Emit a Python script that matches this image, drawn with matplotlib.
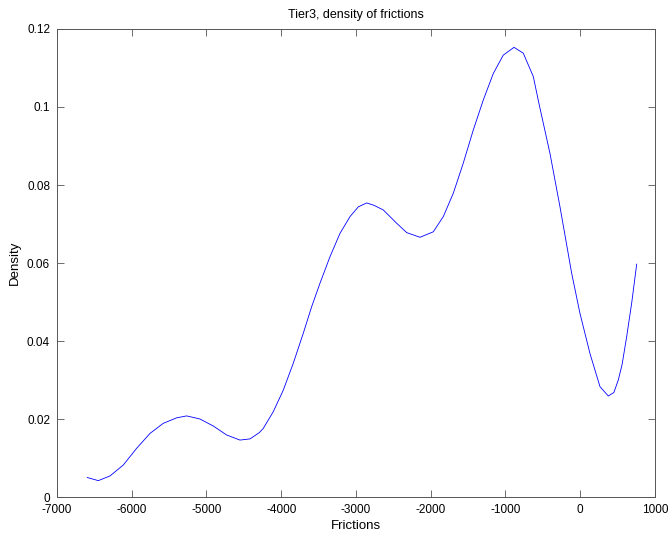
import numpy as np
import matplotlib.pyplot as plt

plt.rcParams['font.family'] = ['Liberation Sans', 'DejaVu Sans']
plt.rcParams['axes.unicode_minus'] = False

# values
frictions = [-6595, -6447, -6291, -6113, -5934, -5756, -5578, -5399, -5265, -5087,
             -4909, -4730, -4552, -4418, -4294, -4240, -4106, -3973, -3839, -3705,
             -3593, -3482, -3348, -3214, -3080, -2969, -2857, -2760, -2635, -2456,
             -2322, -2144, -1966, -1832, -1698, -1565, -1431, -1297, -1163, -1030,
             -886, -762, -628, -548, -405, -271, -115, -4, 130, 264,
             375, 450, 509, 560, 621, 690, 755]
density = [0.0050, 0.0042, 0.0054, 0.0082, 0.0125, 0.0163, 0.0189, 0.0203, 0.0208, 0.0200,
           0.0182, 0.0159, 0.0146, 0.0149, 0.0165, 0.0176, 0.0219, 0.0274, 0.0343, 0.0420,
           0.0488, 0.0548, 0.0616, 0.0676, 0.0719, 0.0744, 0.0754, 0.0748, 0.0736, 0.0702,
           0.0678, 0.0666, 0.0680, 0.0719, 0.0779, 0.0856, 0.0941, 0.1018, 0.1086, 0.1133,
           0.1153, 0.1138, 0.1078, 0.1005, 0.0881, 0.0744, 0.0574, 0.0471, 0.0368, 0.0283,
           0.0259, 0.0268, 0.0300, 0.0340, 0.0411, 0.0500, 0.0597]

fig = plt.figure(figsize=(6.72, 5.35), dpi=100)
ax = fig.add_axes([0.0848, 0.071, 0.8899, 0.8748])
ax.plot(frictions, density, color='blue', linewidth=0.6)

ax.set_xlim(-7000, 1000)
ax.set_ylim(0, 0.12)
ax.set_xticks(np.arange(-7000, 1001, 1000))
ax.set_yticks([0, 0.02, 0.04, 0.06, 0.08, 0.1, 0.12])
ax.set_yticklabels(['0', '0.02', '0.04', '0.06', '0.08', '0.1', '0.12'])
ax.tick_params(direction='in', top=True, right=True, length=5, width=0.6,
               color='#555555', labelsize=8.5, pad=5)
for s in ax.spines.values():
    s.set_linewidth(0.7)
    s.set_color('#555555')

ax.set_title('Tier3, density of frictions', fontsize=9, pad=8)
ax.set_xlabel('Frictions', fontsize=9.5, labelpad=3)
ax.set_ylabel('Density', fontsize=9.5, labelpad=4)

fig.savefig('out.png', dpi=100)
